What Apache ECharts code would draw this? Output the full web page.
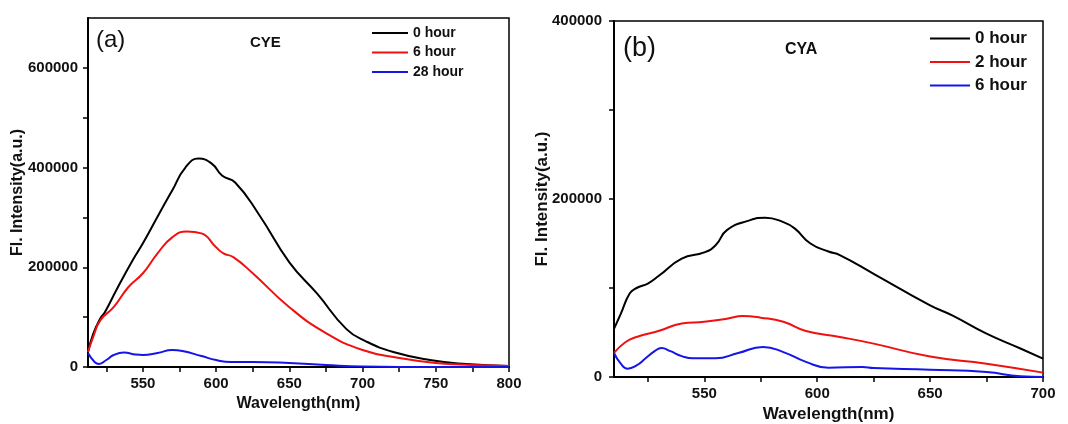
<!DOCTYPE html>
<html>
<head>
<meta charset="utf-8">
<script src="https://cdn.jsdelivr.net/npm/echarts@6/dist/echarts.min.js"></script>
<style>
  html, body { margin: 0; padding: 0; background: #fff; }
  #chart { width: 1068px; height: 424px; }
</style>
</head>
<body>
<div id="chart"></div>
<script>
// panel (a) CYE
var cye0X = [512.5, 516, 521, 524, 532, 543, 550, 561, 570, 579, 588, 597, 604, 613, 629, 650, 669, 689, 702, 721, 746, 771, 800]
var cye0Y = [30000, 66000, 98000, 110000, 155000, 214000, 248000, 307000, 354000, 400000, 418000, 408000, 384000, 370000, 307000, 210000, 147000, 76000, 52000, 30000, 14000, 6000, 2000]
var cye6X = [512.5, 516, 521, 530, 540, 550, 560, 570, 580, 590, 600, 605, 612, 625, 650, 675, 700, 725, 750, 775, 800]
var cye6Y = [30000, 60000, 94000, 120000, 160000, 188000, 228000, 260000, 272000, 268000, 240000, 228000, 220000, 188000, 120000, 68000, 34000, 18000, 8000, 4000, 2000]
var cye28X = [512.5, 517, 520, 525, 530, 537, 545, 550, 560, 570, 577, 590, 600, 610, 625, 650, 675, 700, 750, 800]
var cye28Y = [28000, 10000, 6000, 14000, 24000, 29000, 25000, 24000, 28000, 34000, 32000, 22000, 14000, 10000, 10000, 8000, 4000, 1000, 0, 0]

// panel (b) CYA
var cya0X = [510, 513, 517, 520, 525, 530, 540, 550, 555, 560, 570, 577, 585, 590, 597, 605, 610, 625, 650, 660, 675, 690, 700]
var cya0Y = [54000, 71000, 94000, 100000, 105000, 114000, 133000, 140000, 148000, 165000, 176000, 179000, 174000, 167000, 150000, 141000, 137000, 116000, 80500, 69000, 48700, 32000, 20600]
var cya2X = [510, 515, 520, 530, 540, 550, 560, 567, 575, 585, 595, 610, 625, 650, 675, 700]
var cya2Y = [27000, 39000, 45000, 52000, 60000, 62000, 65500, 68500, 66700, 62000, 51700, 45000, 37500, 23000, 15000, 4900]
var cya6X = [510, 513, 516, 520, 524, 528, 531, 535, 540, 545, 555, 565, 576, 585, 595, 605, 620, 625, 650, 675, 690, 700]
var cya6Y = [27000, 15000, 9400, 13000, 21000, 29000, 32500, 29000, 23500, 21000, 21000, 27000, 33700, 28000, 17000, 10500, 11200, 10000, 8200, 5600, 750, 0]

var xTicksA = [525, 550, 575, 600, 625, 650, 675, 700, 725, 750, 775, 800]
var xLabelsA = [550, 600, 650, 700, 750, 800]
var yTicksA = [0, 100000, 200000, 300000, 400000, 500000, 600000]
var yLabelsA = [0, 200000, 400000, 600000]
var xTicksB = [525, 550, 575, 600, 625, 650, 675, 700]
var xLabelsB = [550, 600, 650, 700]
var yTicksB = [0, 100000, 200000, 300000, 400000]
var yLabelsB = [0, 200000, 400000]

var font = 'Liberation Sans, Arial, sans-serif'

function zip(xs, ys) {
  return xs.map(function (x, i) { return [x, ys[i]] })
}

function plain(v) { return String(v) }

function makeX(idx, min, max, ticks, labels, gap, size) {
  return {
    type: 'value', gridIndex: idx, min: min, max: max,
    name: 'Wavelength(nm)', nameLocation: 'middle', nameGap: gap, nameMoveOverlap: false,
    nameTextStyle: { fontFamily: font, fontWeight: 'bold', fontSize: size, color: '#111' },
    axisLine: { show: true, onZero: false, lineStyle: { color: '#000', width: 2 } },
    axisTick: { show: true, inside: false, length: 5, customValues: ticks, lineStyle: { color: '#000', width: 1.5 } },
    axisLabel: { customValues: labels, formatter: plain, margin: 9, fontFamily: font, fontWeight: 'bold', fontSize: 15, color: '#111' },
    splitLine: { show: false }
  }
}

function makeY(idx, max, ticks, labels, gap, size, margin) {
  return {
    type: 'value', gridIndex: idx, min: 0, max: max,
    name: 'Fl. Intensity(a.u.)', nameLocation: 'middle', nameGap: gap, nameMoveOverlap: false,
    nameTextStyle: { fontFamily: font, fontWeight: 'bold', fontSize: size, color: '#111' },
    axisLine: { show: true, lineStyle: { color: '#000', width: 2 } },
    axisTick: { show: true, inside: false, length: 5, customValues: ticks, lineStyle: { color: '#000', width: 1.5 } },
    axisLabel: { customValues: labels, formatter: plain, margin: margin, fontFamily: font, fontWeight: 'bold', fontSize: 15, color: '#111' },
    splitLine: { show: false }
  }
}

function makeLine(name, idx, data, color) {
  return {
    name: name, type: 'line', xAxisIndex: idx, yAxisIndex: idx,
    data: data, symbol: 'none', smooth: 0.5,
    lineStyle: { color: color, width: 2 }, itemStyle: { color: color },
    animation: false, z: 3
  }
}

var chart = echarts.init(document.getElementById('chart'))
chart.setOption({
  animation: false,
  title: [
    { text: '(a)', left: 91, top: 23, textStyle: { fontFamily: font, fontWeight: 'normal', fontSize: 24, color: '#111' } },
    { text: 'CYE', left: 245, top: 30, textStyle: { fontFamily: font, fontWeight: 'bold', fontSize: 15, color: '#111' } },
    { text: '(b)', left: 618, top: 30, textStyle: { fontFamily: font, fontWeight: 'normal', fontSize: 27, color: '#111' } },
    { text: 'CYA', left: 780, top: 37, textStyle: { fontFamily: font, fontWeight: 'bold', fontSize: 16, color: '#111' } }
  ],
  legend: [
    {
      orient: 'vertical', left: 367, top: 21, icon: 'rect', itemWidth: 36, itemHeight: 2, itemGap: 5.5,
      data: ['a|0 hour', 'a|6 hour', 'a|28 hour'],
      formatter: function (n) { return n.split('|')[1] },
      textStyle: { fontFamily: font, fontWeight: 'bold', fontSize: 14, color: '#111' }
    },
    {
      orient: 'vertical', left: 925, top: 25, icon: 'rect', itemWidth: 40, itemHeight: 2, itemGap: 6.5,
      data: ['b|0 hour', 'b|2 hour', 'b|6 hour'],
      formatter: function (n) { return n.split('|')[1] },
      textStyle: { fontFamily: font, fontWeight: 'bold', fontSize: 17, color: '#111' }
    }
  ],
  grid: [
    { left: 88, top: 18, width: 421, height: 349, outerBoundsMode: 'none', show: true, borderColor: '#000', borderWidth: 1.5, backgroundColor: 'transparent' },
    { left: 614, top: 21, width: 429, height: 356, outerBoundsMode: 'none', show: true, borderColor: '#000', borderWidth: 1.5, backgroundColor: 'transparent' }
  ],
  xAxis: [
    makeX(0, 512.5, 800, xTicksA, xLabelsA, 29, 16),
    makeX(1, 510, 700, xTicksB, xLabelsB, 29, 17)
  ],
  yAxis: [
    makeY(0, 700000, yTicksA, yLabelsA, 62, 16, 10),
    makeY(1, 400000, yTicksB, yLabelsB, 63, 17, 12)
  ],
  series: [
    makeLine('a|0 hour', 0, zip(cye0X, cye0Y), '#000000'),
    makeLine('a|6 hour', 0, zip(cye6X, cye6Y), '#f01010'),
    makeLine('a|28 hour', 0, zip(cye28X, cye28Y), '#1515e8'),
    makeLine('b|0 hour', 1, zip(cya0X, cya0Y), '#000000'),
    makeLine('b|2 hour', 1, zip(cya2X, cya2Y), '#f01010'),
    makeLine('b|6 hour', 1, zip(cya6X, cya6Y), '#1515e8')
  ]
})
</script>
</body>
</html>
